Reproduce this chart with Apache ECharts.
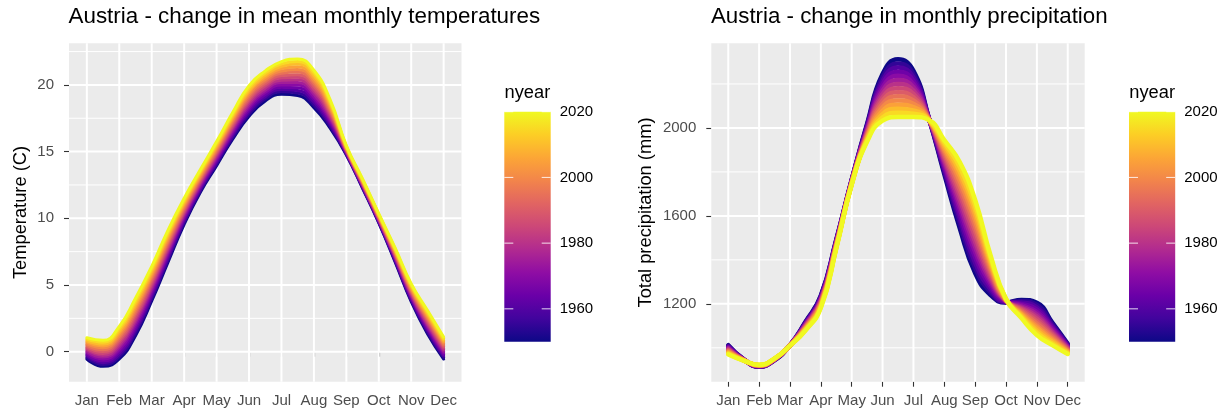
<!DOCTYPE html>
<html>
<head>
<meta charset="utf-8">
<title>Austria - change in monthly climate</title>
<script src="https://cdn.jsdelivr.net/npm/echarts@6/dist/echarts.min.js"></script>
<style>
  html, body { margin: 0; padding: 0; background: #ffffff; }
  #chart { width: 1227px; height: 417px; }
</style>
</head>
<body>
<div id="chart"></div>
<script>
// ---- data -------------------------------------------------------------
const monthLabels = ['Jan', 'Feb', 'Mar', 'Apr', 'May', 'Jun', 'Jul', 'Aug', 'Sep', 'Oct', 'Nov', 'Dec'];
const monthTicks = [1, 2, 3, 4, 5, 6, 7, 8, 9, 10, 11, 12];

// positions (in months) where every yearly curve is sampled
const samplePoints = [1, 1.5, 2, 2.5, 3, 3.5, 4, 4.5, 5, 5.5, 6, 6.5, 7, 7.5, 8, 8.5, 9, 9.5, 10, 10.5, 11, 11.5, 12];

// years drawn, oldest first so the most recent curve ends up on top
const years = [1950, 1955, 1960, 1965, 1970, 1975, 1980, 1985, 1990, 1995, 2000, 2005, 2010, 2015, 2020];

// mean monthly temperature (C), one row per year
const tempRows = [
  [-0.55, -1.10, -0.55, 1.20, 3.80, 6.70, 9.55, 11.95, 13.95, 15.95, 17.65, 18.80, 19.30, 19.20, 18.30, 16.75, 14.75, 12.25, 9.65, 6.75, 3.75, 1.35, -0.55],
  [-0.44, -0.96, -0.38, 1.40, 3.99, 6.87, 9.69, 12.07, 14.08, 16.09, 17.81, 18.96, 19.48, 19.40, 18.50, 16.90, 14.80, 12.30, 9.70, 6.83, 3.85, 1.48, -0.43],
  [-0.32, -0.82, -0.20, 1.60, 4.17, 7.04, 9.83, 12.19, 14.21, 16.24, 17.98, 19.12, 19.65, 19.59, 18.70, 17.06, 14.85, 12.35, 9.75, 6.90, 3.94, 1.60, -0.31],
  [-0.21, -0.68, -0.03, 1.80, 4.36, 7.21, 9.97, 12.31, 14.34, 16.38, 18.14, 19.28, 19.83, 19.79, 18.90, 17.21, 14.90, 12.40, 9.80, 6.98, 4.04, 1.73, -0.20],
  [-0.09, -0.54, 0.15, 2.00, 4.54, 7.39, 10.11, 12.44, 14.46, 16.52, 18.31, 19.44, 20.00, 19.99, 19.10, 17.36, 14.95, 12.45, 9.85, 7.05, 4.14, 1.85, -0.08],
  [0.02, -0.40, 0.33, 2.20, 4.73, 7.56, 10.25, 12.56, 14.59, 16.66, 18.47, 19.60, 20.18, 20.18, 19.30, 17.52, 15.00, 12.50, 9.90, 7.13, 4.23, 1.98, 0.04],
  [0.14, -0.26, 0.50, 2.40, 4.91, 7.73, 10.39, 12.68, 14.72, 16.81, 18.64, 19.76, 20.35, 20.38, 19.50, 17.67, 15.05, 12.55, 9.95, 7.20, 4.33, 2.10, 0.16],
  [0.25, -0.13, 0.68, 2.60, 5.10, 7.90, 10.53, 12.80, 14.85, 16.95, 18.80, 19.93, 20.53, 20.58, 19.70, 17.83, 15.10, 12.60, 10.00, 7.28, 4.43, 2.23, 0.28],
  [0.36, 0.01, 0.85, 2.80, 5.29, 8.07, 10.66, 12.92, 14.98, 17.09, 18.96, 20.09, 20.70, 20.77, 19.90, 17.98, 15.15, 12.65, 10.05, 7.35, 4.52, 2.35, 0.39],
  [0.48, 0.15, 1.03, 3.00, 5.47, 8.24, 10.80, 13.04, 15.11, 17.24, 19.13, 20.25, 20.88, 20.97, 20.10, 18.13, 15.20, 12.70, 10.10, 7.43, 4.62, 2.48, 0.51],
  [0.59, 0.29, 1.20, 3.20, 5.66, 8.41, 10.94, 13.16, 15.24, 17.38, 19.29, 20.41, 21.05, 21.16, 20.30, 18.29, 15.25, 12.75, 10.15, 7.50, 4.71, 2.60, 0.63],
  [0.71, 0.43, 1.38, 3.40, 5.84, 8.59, 11.08, 13.29, 15.36, 17.52, 19.46, 20.57, 21.23, 21.36, 20.50, 18.44, 15.30, 12.80, 10.20, 7.58, 4.81, 2.73, 0.75],
  [0.82, 0.57, 1.55, 3.60, 6.03, 8.76, 11.22, 13.41, 15.49, 17.66, 19.62, 20.73, 21.40, 21.56, 20.70, 18.59, 15.35, 12.85, 10.25, 7.65, 4.91, 2.85, 0.86],
  [0.94, 0.71, 1.73, 3.80, 6.21, 8.93, 11.36, 13.53, 15.62, 17.81, 19.79, 20.89, 21.58, 21.75, 20.90, 18.75, 15.40, 12.90, 10.30, 7.73, 5.00, 2.98, 0.98],
  [1.05, 0.85, 1.90, 4.00, 6.40, 9.10, 11.50, 13.65, 15.75, 17.95, 19.95, 21.05, 21.75, 21.95, 21.10, 18.90, 15.45, 12.95, 10.35, 7.80, 5.10, 3.10, 1.10]
];

// total monthly precipitation (mm), one row per year
const precipRows = [
  [1012, 948, 914, 944, 1012, 1118, 1238, 1492, 1765, 2020, 2245, 2312, 2260, 2045, 1790, 1545, 1340, 1240, 1206, 1218, 1205, 1115, 1018],
  [1009, 948, 915, 945, 1012, 1115, 1234, 1489, 1763, 2014, 2230, 2293, 2245, 2044, 1801, 1566, 1364, 1253, 1207, 1212, 1195, 1108, 1015],
  [1006, 947, 915, 945, 1012, 1112, 1230, 1486, 1762, 2008, 2215, 2275, 2230, 2044, 1812, 1588, 1387, 1266, 1208, 1206, 1184, 1100, 1011],
  [1003, 947, 916, 946, 1012, 1109, 1226, 1483, 1760, 2002, 2200, 2256, 2215, 2043, 1823, 1609, 1411, 1279, 1209, 1200, 1174, 1093, 1008],
  [1000, 946, 917, 946, 1011, 1107, 1222, 1481, 1758, 1997, 2184, 2237, 2200, 2042, 1834, 1631, 1435, 1291, 1211, 1194, 1163, 1086, 1005],
  [997, 946, 917, 947, 1011, 1104, 1218, 1478, 1757, 1991, 2169, 2218, 2185, 2042, 1845, 1652, 1459, 1304, 1212, 1188, 1153, 1078, 1002],
  [994, 945, 918, 947, 1011, 1101, 1214, 1475, 1755, 1985, 2154, 2200, 2170, 2041, 1856, 1674, 1482, 1317, 1213, 1182, 1142, 1071, 998],
  [991, 945, 919, 948, 1011, 1098, 1210, 1472, 1754, 1979, 2139, 2181, 2155, 2041, 1868, 1695, 1506, 1330, 1214, 1177, 1132, 1064, 995],
  [988, 945, 919, 949, 1011, 1095, 1206, 1469, 1752, 1973, 2124, 2162, 2140, 2040, 1879, 1716, 1530, 1343, 1215, 1171, 1121, 1056, 992],
  [985, 944, 920, 949, 1011, 1092, 1202, 1466, 1750, 1967, 2109, 2144, 2125, 2039, 1890, 1738, 1553, 1356, 1216, 1165, 1111, 1049, 988],
  [982, 944, 920, 950, 1011, 1089, 1198, 1463, 1749, 1961, 2094, 2125, 2110, 2039, 1901, 1759, 1577, 1369, 1217, 1159, 1100, 1041, 985],
  [979, 943, 921, 950, 1010, 1087, 1194, 1461, 1747, 1956, 2078, 2106, 2095, 2038, 1912, 1781, 1601, 1381, 1219, 1153, 1090, 1034, 982],
  [976, 943, 922, 951, 1010, 1084, 1190, 1458, 1745, 1950, 2063, 2087, 2080, 2037, 1923, 1802, 1625, 1394, 1220, 1147, 1079, 1027, 979],
  [973, 942, 922, 951, 1010, 1081, 1186, 1455, 1744, 1944, 2048, 2069, 2065, 2037, 1934, 1824, 1648, 1407, 1221, 1141, 1069, 1019, 975],
  [970, 942, 923, 952, 1010, 1078, 1182, 1452, 1742, 1938, 2033, 2050, 2050, 2036, 1945, 1845, 1672, 1420, 1222, 1135, 1058, 1012, 972]
];

const tempTicks = [0, 5, 10, 15, 20];
const tempMinorTicks = [2.5, 7.5, 12.5, 17.5, 22.5];
const precipTicks = [1200, 1600, 2000];
const precipMinorTicks = [1000, 1400, 1800, 2200];
const yearTicks = [1960, 1980, 2000, 2020];
const yearLimits = [1950, 2020];

// ---- styling helpers ----------------------------------------------------
const FONT = '"Liberation Sans", Arial, Helvetica, sans-serif';
const plasmaStops = ['#0D0887', '#41049D', '#6A00A8', '#8F0DA4', '#B12A90', '#CC4778',
                     '#E16462', '#F2844B', '#FCA636', '#FCCE25', '#F0F921'];

function hexToRgb(h) {
  const n = parseInt(h.slice(1), 16);
  return [(n >> 16) & 255, (n >> 8) & 255, n & 255];
}
function plasma(t) {
  const n = plasmaStops.length - 1;
  const p = Math.min(Math.max(t, 0), 1) * n;
  const i = Math.min(Math.floor(p), n - 1);
  const f = p - i;
  const a = hexToRgb(plasmaStops[i]);
  const b = hexToRgb(plasmaStops[i + 1]);
  const c = a.map((v, k) => Math.round(v + (b[k] - v) * f));
  return 'rgb(' + c.join(',') + ')';
}
function yearColor(y) {
  return plasma((y - yearLimits[0]) / (yearLimits[1] - yearLimits[0]));
}
const plainNumber = v => String(v);

// ---- layout ---------------------------------------------------------------
const panels = [
  { left: 69, top: 43.3, width: 392.5, height: 338.4, yMin: -2.25, yMax: 23.12,
    rows: tempRows, major: tempTicks, minor: tempMinorTicks, lineWidth: 3 },
  { left: 711.3, top: 43.3, width: 373.4, height: 338.4, yMin: 846, yMax: 2385,
    rows: precipRows, major: precipTicks, minor: precipMinorTicks, lineWidth: 4.5 }
];
const colorBars = [
  { left: 504.3, top: 111.7, width: 46.4, height: 230 },
  { left: 1129, top: 111.7, width: 46.2, height: 230 }
];

// white panel grid lines, drawn through the panel's own scales
function horizontalGrid(params, api) {
  const cs = params.coordSys;
  const y = api.coord([api.value(0), api.value(1)])[1];
  return { type: 'line', silent: true,
    shape: { x1: cs.x, y1: y, x2: cs.x + cs.width, y2: y },
    style: { stroke: '#ffffff', lineWidth: api.value(2) } };
}
function verticalGrid(params, api) {
  const cs = params.coordSys;
  const x = api.coord([api.value(0), api.value(1)])[0];
  return { type: 'line', silent: true,
    shape: { x1: x, y1: cs.y, x2: x, y2: cs.y + cs.height },
    style: { stroke: '#ffffff', lineWidth: api.value(2) } };
}
// colour bar with white break marks
function colorBar(params, api) {
  const cs = params.coordSys;
  const yTop = api.coord([0, yearLimits[1]])[1];
  const yBot = api.coord([0, yearLimits[0]])[1];
  const n = plasmaStops.length - 1;
  const children = [{
    type: 'rect', silent: true,
    shape: { x: cs.x, y: yTop, width: cs.width, height: yBot - yTop },
    style: { fill: new echarts.graphic.LinearGradient(0, 1, 0, 0,
      plasmaStops.map((c, i) => ({ offset: i / n, color: c }))) }
  }];
  yearTicks.forEach(yr => {
    const y = api.coord([0, yr])[1];
    children.push({ type: 'line', silent: true,
      shape: { x1: cs.x, y1: y, x2: cs.x + 9, y2: y },
      style: { stroke: 'rgba(255,255,255,0.85)', lineWidth: 1 } });
    children.push({ type: 'line', silent: true,
      shape: { x1: cs.x + cs.width - 9, y1: y, x2: cs.x + cs.width, y2: y },
      style: { stroke: 'rgba(255,255,255,0.85)', lineWidth: 1 } });
  });
  return { type: 'group', children };
}

const grids = [];
const xAxes = [];
const yAxes = [];
const series = [];

panels.forEach((p, i) => {
  grids.push({ left: p.left, top: p.top, width: p.width, height: p.height,
    show: true, backgroundColor: '#EBEBEB', borderWidth: 0, z: 0 });
  xAxes.push({
    type: 'value', gridIndex: i, min: 0.45, max: 12.55,
    axisLine: { show: false }, splitLine: { show: false },
    axisTick: { show: true, customValues: monthTicks, length: 5,
      lineStyle: { color: '#333333', width: 1.1 } },
    axisLabel: { customValues: monthTicks, margin: 12, color: '#4D4D4D',
      fontSize: 15, fontFamily: FONT,
      formatter: v => monthLabels[Math.round(v) - 1] }
  });
  yAxes.push({
    type: 'value', gridIndex: i, min: p.yMin, max: p.yMax,
    axisLine: { show: false }, splitLine: { show: false },
    axisTick: { show: true, customValues: p.major, length: 5,
      lineStyle: { color: '#333333', width: 1.1 } },
    axisLabel: { customValues: p.major, margin: 15, color: '#4D4D4D',
      fontSize: 15, fontFamily: FONT, formatter: plainNumber }
  });
  series.push({
    type: 'custom', xAxisIndex: i, yAxisIndex: i, z: 1, silent: true,
    renderItem: horizontalGrid,
    data: p.major.map(v => [1, v, 2]).concat(p.minor.map(v => [1, v, 1]))
  });
  series.push({
    type: 'custom', xAxisIndex: i, yAxisIndex: i, z: 1, silent: true,
    renderItem: verticalGrid,
    data: monthTicks.map(m => [m, p.yMin, 2])
  });
  p.rows.forEach((row, k) => {
    series.push({
      type: 'line', xAxisIndex: i, yAxisIndex: i, z: 2, silent: true,
      name: String(years[k]),
      data: samplePoints.map((x, j) => [x, row[j]]),
      smooth: true, showSymbol: false, symbol: 'none',
      lineStyle: { color: yearColor(years[k]), width: p.lineWidth, cap: 'round', join: 'round' }
    });
  });
});

colorBars.forEach((b, j) => {
  const gi = panels.length + j;
  grids.push({ left: b.left, top: b.top, width: b.width, height: b.height, show: false });
  xAxes.push({ type: 'value', gridIndex: gi, min: 0, max: 1, show: false });
  yAxes.push({
    type: 'value', gridIndex: gi, min: yearLimits[0], max: yearLimits[1], position: 'right',
    axisLine: { show: false }, axisTick: { show: false }, splitLine: { show: false },
    axisLabel: { customValues: yearTicks, margin: 9, color: '#000000', fontSize: 15,
      fontFamily: FONT, formatter: plainNumber }
  });
  series.push({
    type: 'custom', xAxisIndex: gi, yAxisIndex: gi, z: 2, silent: true,
    renderItem: colorBar, data: [[0.5, 1985]]
  });
});

function label(text, x, y, size) {
  return {
    type: 'text', x: x, y: y, silent: true,
    style: { text: text, fontSize: size, fontFamily: FONT, fill: '#000000',
      align: 'left', verticalAlign: 'middle' }
  };
}
const rotated = (text, x, y) => ({
  type: 'text', x: x, y: y, rotation: Math.PI / 2, silent: true,
  style: { text: text, fontSize: 18.3, fontFamily: FONT, fill: '#000000',
    align: 'center', verticalAlign: 'middle' }
});

const chart = echarts.init(document.getElementById('chart'), null, { renderer: 'canvas' });
chart.setOption({
  animation: false,
  backgroundColor: '#ffffff',
  grid: grids,
  xAxis: xAxes,
  yAxis: yAxes,
  series: series,
  graphic: [
    label('Austria - change in mean monthly temperatures', 68.5, 16.5, 22.4),
    label('Austria - change in monthly precipitation', 711, 16.5, 22.3),
    rotated('Temperature (C)', 21, 212.5),
    rotated('Total precipitation (mm)', 645.5, 212.5),
    label('nyear', 504.5, 93, 18.3),
    label('nyear', 1129.3, 93, 18.3)
  ]
});
</script>
</body>
</html>
